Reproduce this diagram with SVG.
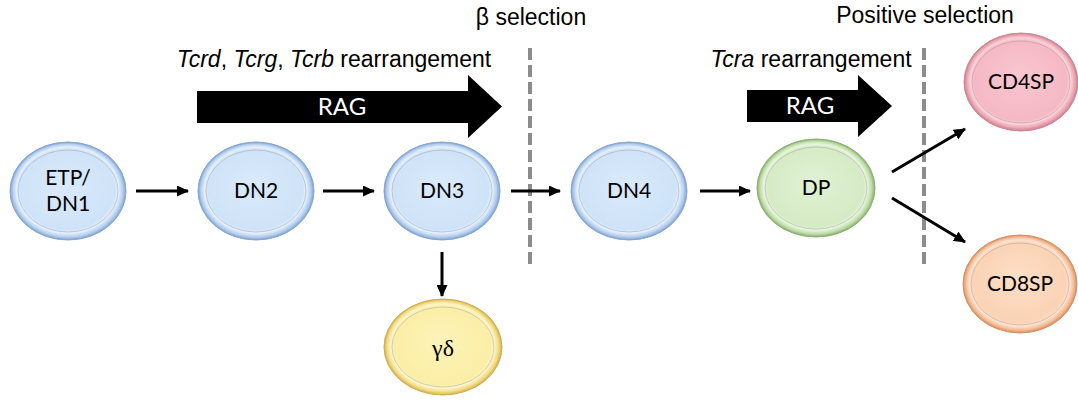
<svg xmlns="http://www.w3.org/2000/svg" width="1078" height="404" viewBox="0 0 1078 404">
  <style>
    .lbl { font-family: "Liberation Sans", Arial, sans-serif; font-size: 23px; fill: #000; }
    .node-text { font-family: Lato, "Open Sans", sans-serif; font-size: 21px; fill: #000; text-anchor: middle; }
    .rag { font-family: Lato, "Open Sans", sans-serif; font-size: 24px; fill: #fff; text-anchor: middle; }
    .inner { fill: none; stroke: #8a8a8a; stroke-width: 0.6; stroke-opacity: 0.6; }
    .shine { fill: url(#gShine); }
    .conn { stroke: #000; stroke-width: 3; fill: none; marker-end: url(#head); }
    .divider { stroke: #8c8c8c; stroke-width: 4; stroke-dasharray: 12 5; fill: none; }
  </style>
  <defs>
    <marker id="head" markerUnits="userSpaceOnUse" markerWidth="12" markerHeight="11" refX="11" refY="5.5" orient="auto">
      <path d="M0,0 L12,5.5 L0,11 z" fill="#000"/>
    </marker>
    <!-- bevel shading: soft body, bright inner lip, darker outer rim -->
    <radialGradient id="gBlue" cx="0.5" cy="0.5" r="0.5" fx="0.47" fy="0.42">
      <stop offset="0" stop-color="#d9eafb"/>
      <stop offset="0.82" stop-color="#cfe3f8"/>
      <stop offset="0.88" stop-color="#e4f0fc"/>
      <stop offset="0.95" stop-color="#b3cdee"/>
      <stop offset="1" stop-color="#7d9fcf"/>
    </radialGradient>
    <radialGradient id="gGreen" cx="0.5" cy="0.5" r="0.5" fx="0.47" fy="0.42">
      <stop offset="0" stop-color="#e0f1d4"/>
      <stop offset="0.82" stop-color="#d5ebc5"/>
      <stop offset="0.88" stop-color="#e8f5de"/>
      <stop offset="0.95" stop-color="#bcdba5"/>
      <stop offset="1" stop-color="#86ab6b"/>
    </radialGradient>
    <radialGradient id="gYellow" cx="0.5" cy="0.5" r="0.5" fx="0.47" fy="0.42">
      <stop offset="0" stop-color="#fdf3b8"/>
      <stop offset="0.82" stop-color="#fbeea6"/>
      <stop offset="0.88" stop-color="#fdf6cc"/>
      <stop offset="0.95" stop-color="#f1d980"/>
      <stop offset="1" stop-color="#cfae48"/>
    </radialGradient>
    <radialGradient id="gPink" cx="0.5" cy="0.5" r="0.5" fx="0.47" fy="0.42">
      <stop offset="0" stop-color="#f8c6d0"/>
      <stop offset="0.82" stop-color="#f5b9c5"/>
      <stop offset="0.88" stop-color="#fad3da"/>
      <stop offset="0.95" stop-color="#eba3b1"/>
      <stop offset="1" stop-color="#c97d8d"/>
    </radialGradient>
    <radialGradient id="gPeach" cx="0.5" cy="0.5" r="0.5" fx="0.47" fy="0.42">
      <stop offset="0" stop-color="#fcdec7"/>
      <stop offset="0.82" stop-color="#fbd3b5"/>
      <stop offset="0.88" stop-color="#fde4d1"/>
      <stop offset="0.95" stop-color="#f3ba92"/>
      <stop offset="1" stop-color="#d58a5a"/>
    </radialGradient>
  </defs>

  <rect width="1078" height="404" fill="#fff"/>

  <!-- headings -->
  <text class="lbl" x="334" y="67" text-anchor="middle" font-size="24"><tspan font-style="italic">Tcrd</tspan>, <tspan font-style="italic">Tcrg</tspan>, <tspan font-style="italic">Tcrb</tspan> rearrangement</text>
  <text class="lbl" x="531" y="25" text-anchor="middle">β selection</text>
  <text class="lbl" x="811" y="67" text-anchor="middle"><tspan font-style="italic">Tcra</tspan> rearrangement</text>
  <text class="lbl" x="925" y="23" text-anchor="middle">Positive selection</text>

  <!-- RAG block arrows -->
  <g id="rag1">
    <polygon points="197,91 468,91 468,75 502,106.5 468,138 468,123 197,123" fill="#000"/>
    <text class="rag" x="342" y="115">RAG</text>
  </g>
  <g id="rag2">
    <polygon points="747,90 858,90 858,75 892,106 858,137 858,122 747,122" fill="#000"/>
    <text class="rag" x="810" y="114">RAG</text>
  </g>

  <!-- selection checkpoints -->
  <line class="divider" x1="530" y1="48" x2="530" y2="267"/>
  <line class="divider" x1="924" y1="48" x2="924" y2="267"/>

  <!-- connectors -->
  <g id="connectors">
    <line class="conn" x1="136" y1="191" x2="188" y2="191"/>
    <line class="conn" x1="323" y1="191" x2="374" y2="191"/>
    <line class="conn" x1="511" y1="191" x2="560" y2="191"/>
    <line class="conn" x1="700" y1="191" x2="750" y2="191"/>
    <line class="conn" x1="442" y1="252" x2="442" y2="296"/>
    <line class="conn" x1="892" y1="172" x2="965" y2="129"/>
    <line class="conn" x1="892" y1="198" x2="965" y2="242"/>
  </g>

  <!-- cell stages -->
  <g id="etp-dn1">
    <ellipse cx="68" cy="191" rx="58" ry="49" fill="url(#gBlue)" stroke="#86a6d2" stroke-width="1"/>
    <ellipse class="inner" cx="68" cy="191" rx="50" ry="41"/>
    <text class="node-text" x="68" y="185">ETP/</text>
    <text class="node-text" x="68" y="211">DN1</text>
  </g>
  <g id="dn2">
    <ellipse cx="256" cy="191" rx="58" ry="49" fill="url(#gBlue)" stroke="#86a6d2" stroke-width="1"/>
    <ellipse class="inner" cx="256" cy="191" rx="50" ry="41"/>
    <text class="node-text" x="256" y="198">DN2</text>
  </g>
  <g id="dn3">
    <ellipse cx="442" cy="191" rx="58" ry="49" fill="url(#gBlue)" stroke="#86a6d2" stroke-width="1"/>
    <ellipse class="inner" cx="442" cy="191" rx="50" ry="41"/>
    <text class="node-text" x="442" y="198">DN3</text>
  </g>
  <g id="dn4">
    <ellipse cx="629" cy="191" rx="58" ry="49" fill="url(#gBlue)" stroke="#86a6d2" stroke-width="1"/>
    <ellipse class="inner" cx="629" cy="191" rx="50" ry="41"/>
    <text class="node-text" x="629" y="198">DN4</text>
  </g>
  <g id="dp">
    <ellipse cx="816" cy="188" rx="59" ry="49" fill="url(#gGreen)" stroke="#8cb172" stroke-width="1"/>
    <ellipse class="inner" cx="816" cy="188" rx="51" ry="41"/>
    <text class="node-text" x="816" y="195">DP</text>
  </g>
  <g id="gamma-delta">
    <ellipse cx="443" cy="347" rx="59" ry="48" fill="url(#gYellow)" stroke="#d1b050" stroke-width="1"/>
    <ellipse class="inner" cx="443" cy="347" rx="51" ry="40"/>
    <text x="443" y="356" text-anchor="middle" font-family="'Liberation Serif', 'Times New Roman', serif" font-size="24" fill="#000">γδ</text>
  </g>
  <g id="cd4sp">
    <ellipse cx="1021" cy="82" rx="57" ry="49" fill="url(#gPink)" stroke="#cf8796" stroke-width="1"/>
    <ellipse class="inner" cx="1021" cy="82" rx="49" ry="41"/>
    <text class="node-text" x="1021" y="89">CD4SP</text>
  </g>
  <g id="cd8sp">
    <ellipse cx="1020" cy="284" rx="57" ry="49" fill="url(#gPeach)" stroke="#d89367" stroke-width="1"/>
    <ellipse class="inner" cx="1020" cy="284" rx="49" ry="41"/>
    <text class="node-text" x="1020" y="291">CD8SP</text>
  </g>
</svg>
